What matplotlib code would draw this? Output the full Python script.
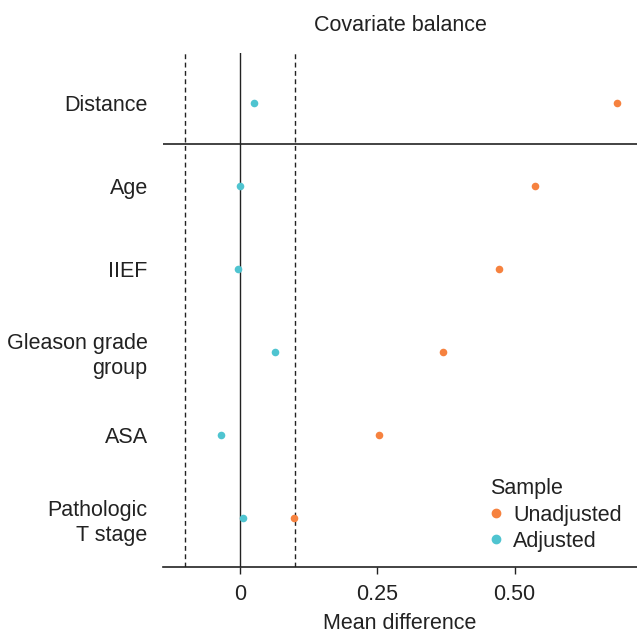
import matplotlib
matplotlib.use("Agg")
import matplotlib.pyplot as plt
from matplotlib.lines import Line2D

plt.rcParams['font.family'] = ['Liberation Sans', 'DejaVu Sans']

covariates = ["Distance", "Age", "IIEF", "Gleason grade\ngroup", "ASA", "Pathologic\nT stage"]
unadjusted = [0.687, 0.537, 0.472, 0.370, 0.253, 0.098]
adjusted = [0.025, 0.001, -0.003, 0.064, -0.035, 0.006]
xticks = [0, 0.25, 0.50]
xticklabels = ["0", "0.25", "0.50"]

c_unadj = "#F6823F"
c_adj = "#4FC4D0"
txt = "#222222"
fs = 15.5

fig = plt.figure(figsize=(6.37, 6.34), dpi=100)
ax = fig.add_axes([163/637, 67/634, 474/637, 514/634])

n = len(covariates)
ypos = [n - i for i in range(n)]

ax.axvline(0, color="#222222", lw=1.0, zorder=1)
ax.axvline(-0.1, color="#222222", lw=1.0, ls=(0, (3.5, 2.5)), zorder=1)
ax.axvline(0.1, color="#222222", lw=1.0, ls=(0, (3.5, 2.5)), zorder=1)
ax.axhline(n - 0.5, color="#222222", lw=1.2, zorder=1)

ax.scatter(unadjusted, ypos, s=30, color=c_unadj, zorder=3, linewidths=0)
ax.scatter(adjusted, ypos, s=30, color=c_adj, zorder=3, linewidths=0)

ax.set_xlim(-0.140, 0.723)
ax.set_ylim(0.41, n + 0.6)
ax.set_yticks(ypos)
ax.set_yticklabels(covariates, fontsize=fs, color=txt, linespacing=1.25)
ax.tick_params(axis='y', length=0, pad=11)
ax.set_xticks(xticks)
ax.set_xticklabels(xticklabels, fontsize=fs, color=txt)
ax.tick_params(axis='x', length=5, width=1.0, color="#222222", pad=7)

for s in ["top", "right", "left"]:
    ax.spines[s].set_visible(False)
ax.spines["bottom"].set_linewidth(1.2)
ax.spines["bottom"].set_color("#222222")

ax.set_xlabel("Mean difference", fontsize=fs, color=txt, labelpad=6)
ax.set_title("Covariate balance", fontsize=fs, color=txt, pad=16)

handles = [Line2D([], [], marker='o', ls='', color=c_unadj, markersize=6, label="Unadjusted"),
           Line2D([], [], marker='o', ls='', color=c_adj, markersize=6, label="Adjusted")]
leg = ax.legend(handles=handles, title="Sample", loc="lower right", frameon=False,
                fontsize=fs, title_fontsize=fs, handlelength=0.6, handletextpad=0.5,
                labelspacing=0.25, bbox_to_anchor=(1.0, 0.0), alignment='left',
                borderaxespad=0.3)
for t in leg.get_texts():
    t.set_color(txt)
leg.get_title().set_color(txt)

fig.savefig("out.png", dpi=100)
